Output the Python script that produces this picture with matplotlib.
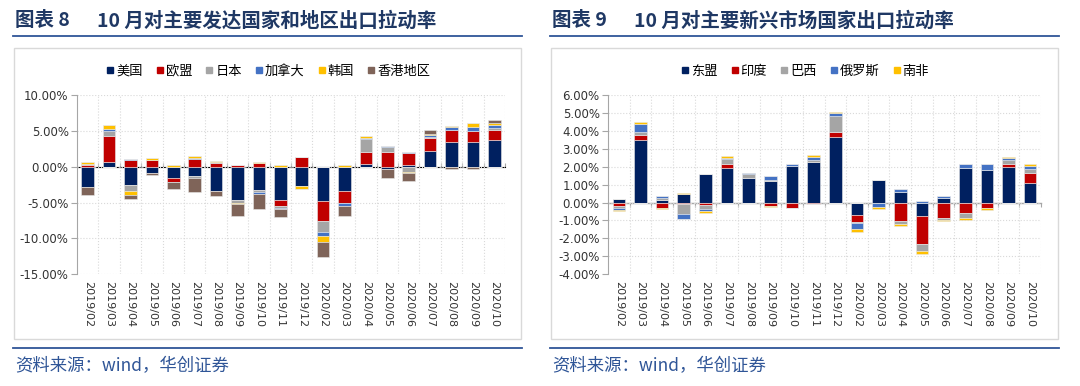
import matplotlib
matplotlib.use('Agg')
import matplotlib.pyplot as plt
from matplotlib.lines import Line2D
from matplotlib.patches import Rectangle
import numpy as np

plt.rcParams['font.family'] = ['Noto Sans CJK SC', 'DejaVu Sans']

months = ['2019/02', '2019/03', '2019/04', '2019/05', '2019/06', '2019/07',
          '2019/08', '2019/09', '2019/10', '2019/11', '2019/12', '2020/02',
          '2020/03', '2020/04', '2020/05', '2020/06', '2020/07', '2020/08',
          '2020/09', '2020/10']

# 图表8：发达国家和地区（%）
us = [-2.8, 0.65, -2.48, -0.84, -1.59, -1.3, -3.36, -4.58, -3.18, -4.67,
      -2.66, -4.72, -3.36, 0.37, -0.25, 0.2, 2.15, 3.46, 3.46, 3.78]
eu = [0.3, 3.7, 0.93, 0.93, -0.47, 1.12, 0.56, 0.2, 0.47, -0.75,
      1.36, -2.85, -1.64, 1.64, 2.0, 1.68, 1.92, 1.68, 1.54, 1.31]
jp = [0.1, 0.6, -0.93, 0.05, 0.0, -0.2, 0.12, -0.47, -0.37, -0.33,
      0.0, -1.59, 0.0, 1.87, 0.7, -0.7, 0.1, 0.0, 0.0, 0.33]
ca = [0.05, 0.37, 0.15, 0.0, 0.0, 0.15, 0.0, 0.0, -0.28, -0.2,
      0.0, -0.47, -0.42, 0.14, 0.19, 0.23, 0.23, 0.42, 0.56, 0.47]
kr = [0.2, 0.55, -0.47, 0.28, 0.2, 0.28, 0.16, -0.2, 0.23, 0.2,
      -0.42, -0.93, 0.2, 0.23, -0.1, -0.19, 0.23, 0.19, 0.6, 0.19]
hk = [-1.17, 0.0, -0.56, -0.33, -1.03, -2.05, -0.75, -1.6, -2.05, -1.12,
      0.0, -2.05, -1.5, 0.0, -1.26, -1.12, 0.5, -0.37, -0.37, 0.51]

# 图表9：新兴市场国家（%）
asean = [0.17, 3.5, 0.15, 0.48, 1.58, 1.94, 1.4, 1.21, 2.03, 2.29,
         3.69, -0.69, 1.25, 0.61, -0.74, 0.28, 1.94, 1.81, 2.01, 1.1]
india = [-0.22, 0.3, -0.3, -0.11, -0.13, 0.24, 0.0, -0.2, -0.28, -0.07,
         0.24, -0.41, 0.0, -1.04, -1.6, -0.88, -0.6, -0.32, 0.13, 0.54]
brazil = [-0.08, 0.13, 0.13, -0.54, -0.24, 0.26, 0.19, 0.07, 0.0, 0.11,
          0.89, -0.06, -0.03, -0.15, -0.35, -0.11, -0.26, 0.0, 0.22, 0.24]
russia = [-0.12, 0.48, 0.07, -0.28, -0.13, 0.06, 0.07, 0.22, 0.15, 0.17,
          0.17, -0.3, -0.24, 0.15, 0.09, 0.07, 0.19, 0.37, 0.13, 0.19]
safrica = [-0.06, 0.09, -0.04, 0.07, -0.11, 0.09, 0.0, -0.06, -0.04, 0.09,
           0.06, -0.17, -0.11, -0.13, -0.17, -0.06, -0.11, -0.09, 0.06, 0.09]

left_names = ['美国', '欧盟', '日本', '加拿大', '韩国', '香港地区']
left_colors = ['#002060', '#C00000', '#A5A5A5', '#4472C4', '#FFC000', '#7F6459']
right_names = ['东盟', '印度', '巴西', '俄罗斯', '南非']
right_colors = ['#002060', '#C00000', '#A5A5A5', '#4472C4', '#FFC000']

W, H = 1080, 386
fig = plt.figure(figsize=(W / 100, H / 100), dpi=100)

title_color = '#1F3864'
line_color = '#2F5597'
grid_color = '#D9D9D9'
axis_color = '#A6A6A6'


def fx(px):
    return px / W


def fy(py):
    return 1 - py / H


def stacked(ax, series, colors):
    x = np.arange(len(months))
    pos = np.zeros(len(months))
    neg = np.zeros(len(months))
    for vals, c in zip(series, colors):
        v = np.array(vals)
        p = np.where(v > 0, v, 0)
        n = np.where(v < 0, v, 0)
        ax.bar(x, p, 0.58, bottom=pos, color=c, edgecolor='#E8E8E8', linewidth=0.4, zorder=3)
        ax.bar(x, n, 0.58, bottom=neg, color=c, edgecolor='#E8E8E8', linewidth=0.4, zorder=3)
        pos += p
        neg += n


def panel(x0, x1, ax_left, ax_right, label, title, title_x, names, colors, series, ylim, step):
    # title, lines and frame
    fig.text(fx(x0 + 2), fy(21), label, fontsize=14, fontweight='bold',
             color=title_color, va='center', ha='left')
    fig.text(fx(title_x), fy(21), title, fontsize=14, fontweight='bold',
             color=title_color, va='center', ha='left')
    fig.add_artist(Line2D([fx(x0), fx(x1)], [fy(36), fy(36)], color=line_color, lw=1.3))
    fig.add_artist(Line2D([fx(x0), fx(x1)], [fy(348), fy(348)], color=line_color, lw=1.3))
    fig.add_artist(Rectangle((fx(x0 + 1), fy(338.6)), fx(x1 - x0 - 2), (338.6 - 47.6) / H,
                             fill=False, edgecolor=grid_color, lw=1.0))
    fig.text(fx(x0 + 2), fy(366), '资料来源：wind，华创证券', fontsize=12.5, style='italic',
             color=line_color, va='center', ha='left')

    ax = fig.add_axes([fx(ax_left), fy(274), fx(ax_right - ax_left), (274 - 95.3) / H])
    stacked(ax, series, colors)
    ax.set_xlim(-0.5, len(months) - 0.5)
    ax.set_ylim(*ylim)
    ax.set_yticks(np.arange(ylim[0], ylim[1] + step / 2, step))
    ax.yaxis.set_major_formatter(lambda v, p: '%.2f%%' % v)
    ax.set_xticks(np.arange(len(months)))
    ax.set_xticklabels(months, rotation=270, fontsize=8, family='DejaVu Sans', color='#333333')
    ax.tick_params(axis='x', length=0, pad=5)
    ax.tick_params(axis='y', length=4, color=axis_color, labelsize=8.5, labelcolor='#333333', pad=2)
    for lab in ax.get_yticklabels():
        lab.set_family('DejaVu Sans')
    for s in ['top', 'right', 'bottom']:
        ax.spines[s].set_visible(False)
    ax.spines['left'].set_color(axis_color)
    ax.set_xticks(np.arange(len(months)) + 0.5, minor=True)
    ax.tick_params(axis='x', which='minor', length=0)
    ax.grid(axis='y', which='major', color=grid_color, ls=':', lw=0.8, zorder=0)
    ax.grid(axis='x', which='minor', color=grid_color, ls=':', lw=0.8, zorder=0)

    # zero line with small ticks at category boundaries
    zero = (0 - ylim[0]) / (ylim[1] - ylim[0])
    sec = ax.secondary_xaxis(zero)
    sec.set_xticks(np.arange(len(months)) + 0.5)
    sec.set_xticklabels([])
    sec.tick_params(length=3, color=axis_color, direction='out')
    sec.spines['bottom'].set_color(axis_color)
    sec.spines['bottom'].set_linewidth(1.0)

    handles = [Line2D([], [], marker='s', ls='', color=c, markersize=4.5) for c in colors]
    ax.legend(handles, names, loc='center', bbox_to_anchor=((x0 + x1) / 2 / W, fy(71)),
              bbox_transform=fig.transFigure, ncol=len(names), frameon=False,
              fontsize=9.5, handletextpad=0.05, columnspacing=0.9, handlelength=0.8)
    return ax


panel(13, 522, 77, 505, '图表 8', '10 月对主要发达国家和地区出口拉动率', 97,
      left_names, left_colors, [us, eu, jp, ca, kr, hk], (-15, 10), 5)
panel(550, 1059, 608, 1041, '图表 9', '10 月对主要新兴市场国家出口拉动率', 634,
      right_names, right_colors, [asean, india, brazil, russia, safrica], (-4, 6), 1)

fig.savefig('out.png', dpi=100)
